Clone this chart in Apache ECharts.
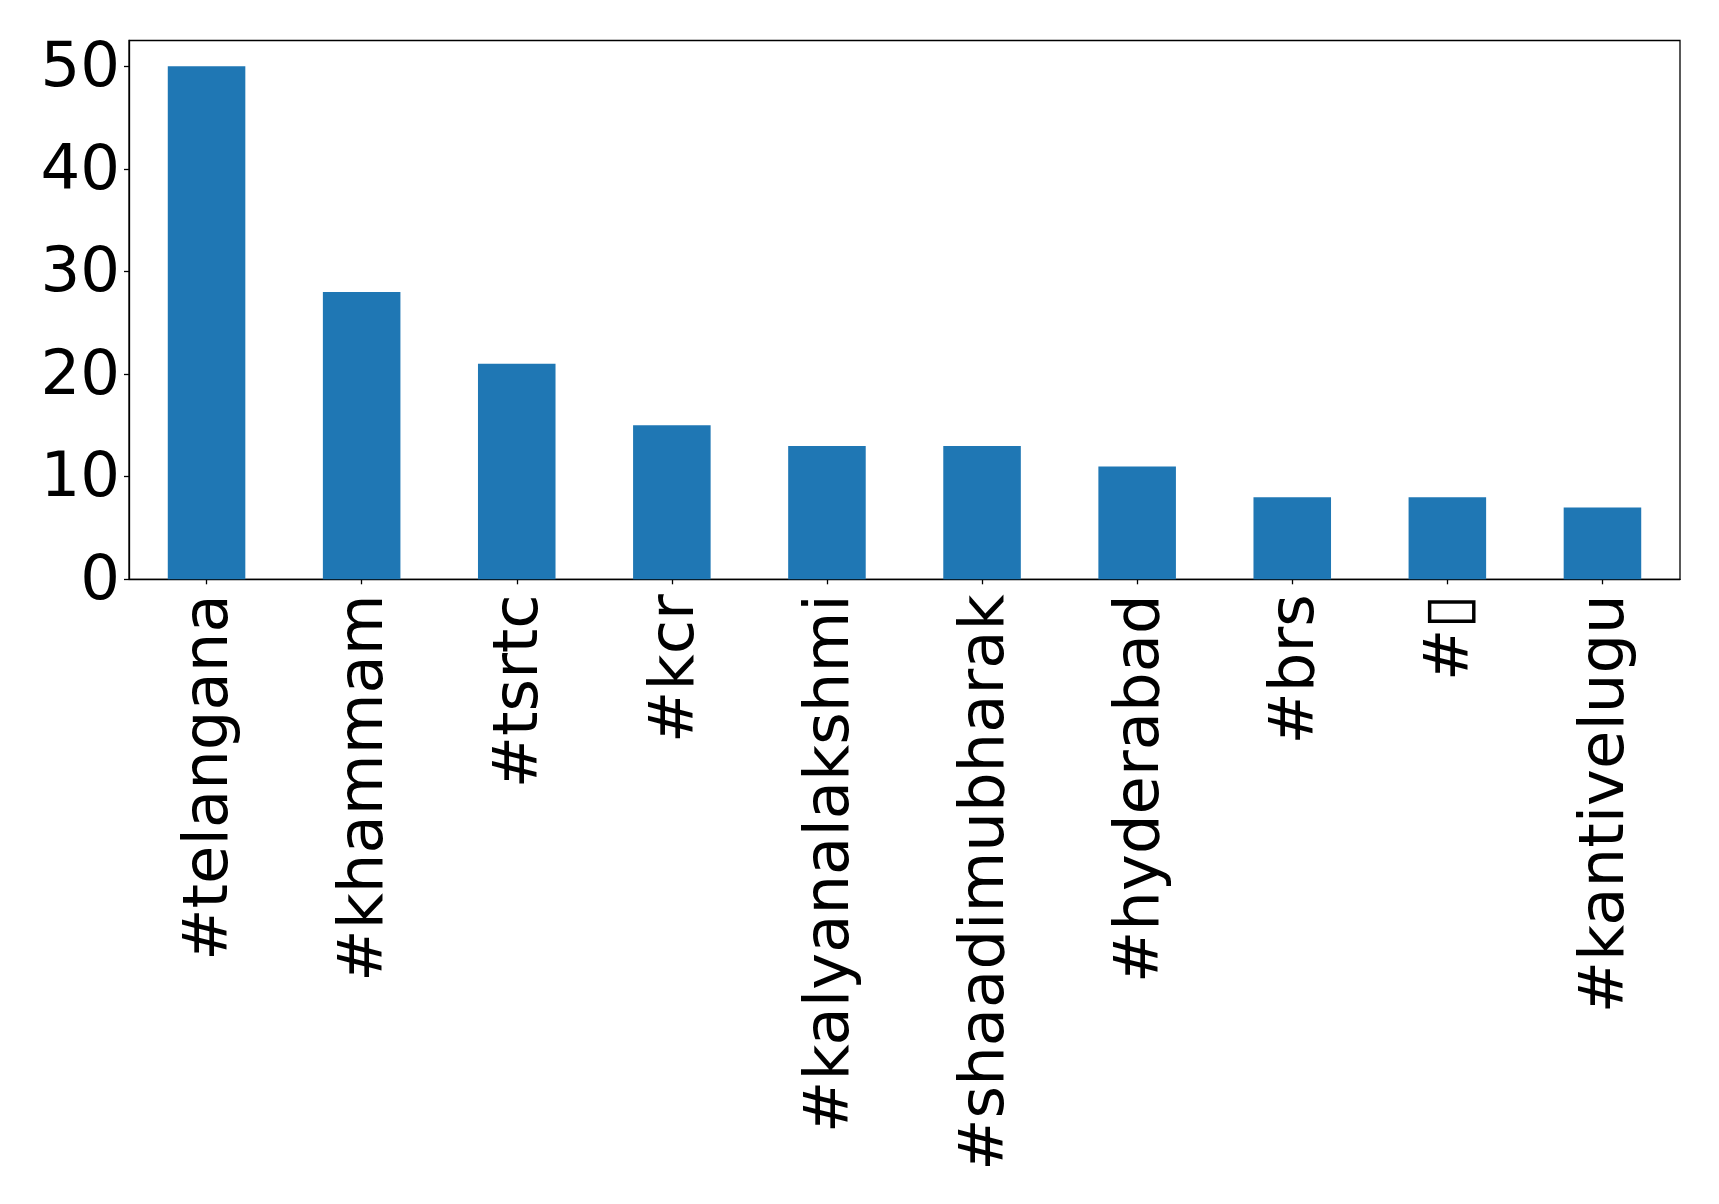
<!DOCTYPE html>
<html><head><meta charset="utf-8">
<script src="https://cdn.jsdelivr.net/npm/echarts@6/dist/echarts.min.js"></script>
<style>html,body{margin:0;padding:0;background:#fff}#c{width:1719px;height:1204px}</style>
</head><body><div id="c"></div>
<script>
const categories = ['#telangana','#khammam','#tsrtc','#kcr','#kalyanalakshmi','#shaadimubharak','#hyderabad','#brs','#\u25AF','#kantivelugu'];
const counts = [50, 28, 21, 15, 13, 13, 11, 8, 8, 7];
const yTicks = [0, 10, 20, 30, 40, 50];

const chart = echarts.init(document.getElementById('c'), null, {renderer:'canvas'});
const font = 'DejaVu Sans';
const txt = {color: '#000', fontSize: 62.5, fontFamily: font};
chart.setOption({
  animation: false,
  backgroundColor: '#fff',
  grid: {left: 129, right: 39, top: 40.5, bottom: 624.7, show: true, borderColor: '#000', borderWidth: 1.3, containLabel: false},
  xAxis: {
    type: 'category', data: categories, boundaryGap: true,
    axisLine: {show: true, lineStyle: {color: '#000', width: 1.3}},
    axisTick: {show: true, alignWithLabel: true, length: 5, lineStyle: {color: '#000', width: 1.3}},
    axisLabel: Object.assign({rotate: 90, interval: 0, margin: 15,
      formatter: v => '{a|' + v + '}',
      rich: {a: Object.assign({padding: [9, 0, 0, 0]}, txt)}}, txt),
    splitLine: {show: false}
  },
  yAxis: {
    type: 'value', min: 0, max: 52.5, interval: 10,
    axisLine: {show: true, lineStyle: {color: '#000', width: 1.3}},
    axisTick: {show: true, length: 5, lineStyle: {color: '#000', width: 1.3}},
    axisLabel: Object.assign({margin: 9, showMaxLabel: false,
      formatter: v => yTicks.includes(v) ? '{a|' + v + '}' : '',
      rich: {a: Object.assign({padding: [7, 0, 0, 0]}, txt)}}, txt),
    splitLine: {show: false}
  },
  series: [{type: 'bar', data: counts, barWidth: '50%', itemStyle: {color: '#1f77b4'}}]
});
</script></body></html>
